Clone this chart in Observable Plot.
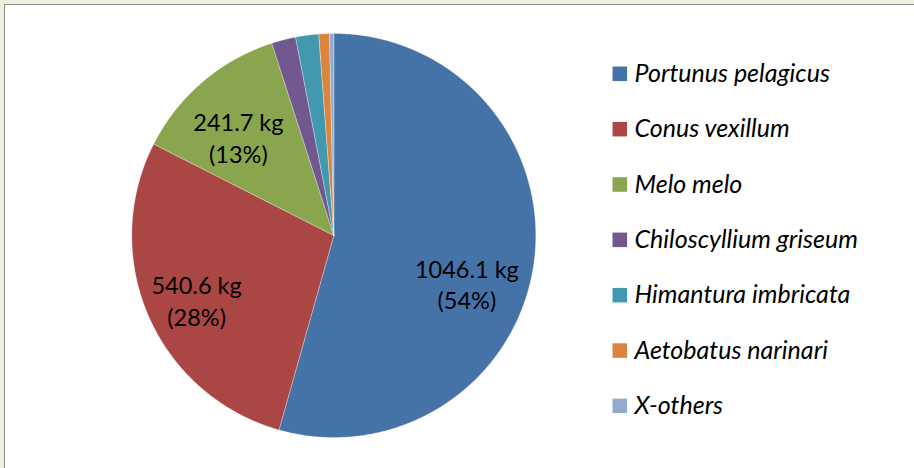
<!DOCTYPE html>
<html>
<head>
<meta charset="utf-8">
<script src="https://cdn.jsdelivr.net/npm/d3@7"></script>
<script src="https://cdn.jsdelivr.net/npm/@observablehq/plot@0.6"></script>
<style>
  html, body { margin: 0; padding: 0; }
  body { width: 914px; height: 468px; background: #ebf1de; position: relative; overflow: hidden; }
  #box { position: absolute; left: 4px; top: 4px; width: 940px; height: 500px; background: #fff; border: 1.5px solid #8c8c8c; box-sizing: border-box; }
  #chart { position: absolute; left: 0; top: 0; }
</style>
</head>
<body>
<div id="box"></div>
<div id="chart"></div>
<script>
// ---- data ----
const species = ["Portunus pelagicus", "Conus vexillum", "Melo melo", "Chiloscyllium griseum", "Himantura imbricata", "Aetobatus narinari", "X-others"];
const weights = [1046.1, 540.6, 241.7, 37.2, 35.5, 16.3, 6.5];
const percentLabels = ["54%", "28%", "13%", null, null, null, null];
const colors = ["#4572a7", "#aa4643", "#89a54e", "#71588f", "#4198af", "#db843d", "#93a9cf"];

// ---- layout ----
const W = 914, H = 468;
const cx = 333.3, cy = 235, R = 202;
const labelR = 0.72 * R;
const labelNudge = [[-11, 28], [-4, 6], [-1, 12]];

const rows = species.map((s, i) => ({name: s, value: weights[i], color: colors[i], pct: percentLabels[i], i}));
const arcs = d3.pie().sort(null).value(d => d.value)(rows);

function pt(a, r) { return {x: cx + r * Math.sin(a), y: cy - r * Math.cos(a)}; }

const marks = [];
arcs.forEach(a => {
  const pts = [{x: cx, y: cy}];
  const n = Math.max(2, Math.ceil((a.endAngle - a.startAngle) / (Math.PI / 360)));
  for (let k = 0; k <= n; k++) pts.push(pt(a.startAngle + (a.endAngle - a.startAngle) * k / n, R));
  pts.push({x: cx, y: cy});
  marks.push(Plot.line(pts, {x: "x", y: "y", fill: a.data.color, stroke: "white", strokeWidth: 0.6, strokeOpacity: 0.5}));
});

arcs.filter(a => a.data.pct).forEach(a => {
  const m = (a.startAngle + a.endAngle) / 2;
  const p = pt(m, labelR);
  const nd = labelNudge[a.data.i] || [0, 0];
  marks.push(Plot.text([{x: p.x, y: p.y, t: `${a.data.value.toFixed(1)} kg\n(${a.data.pct})`}], {
    x: "x", y: "y", text: "t", dx: nd[0], dy: nd[1],
    fontSize: 23.5, lineHeight: 1.35, fill: "#000", textAnchor: "middle", lineAnchor: "middle"
  }));
});

// legend
const legY0 = 73.3, legStep = 55.35;
const leg = rows.map(d => ({...d, ly: legY0 + legStep * d.i}));
marks.push(Plot.dot(leg, {x: () => 619.3, y: "ly", symbol: "square", r: 8.2, fill: "color", stroke: null}));
marks.push(Plot.text(leg, {x: () => 634, y: "ly", text: "name", textAnchor: "start", lineAnchor: "middle",
  fontSize: 25, fontStyle: "italic", fill: "#000"}));

const chart = Plot.plot({
  width: W, height: H,
  margin: 0,
  style: {background: "transparent", fontFamily: "Lato, 'Open Sans', sans-serif"},
  x: {domain: [0, W], range: [0, W], axis: null},
  y: {domain: [0, H], range: [0, H], axis: null},
  color: {type: "identity"},
  marks
});
document.getElementById("chart").appendChild(chart);
</script>
</body>
</html>
